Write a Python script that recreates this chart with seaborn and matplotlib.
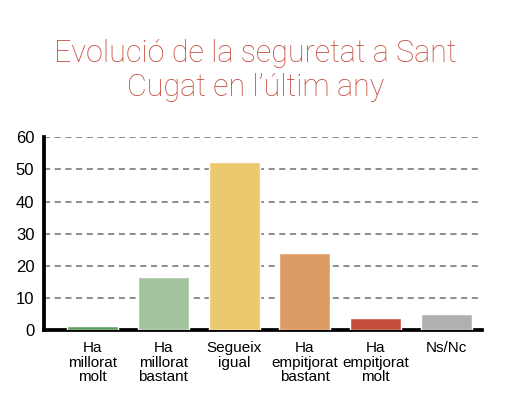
import matplotlib
matplotlib.use("Agg")
import matplotlib.pyplot as plt
import seaborn as sns
import pandas as pd
import numpy as np

# Dades llegides del gràfic
categories = ["Ha\nmillorat\nmolt", "Ha\nmillorat\nbastant", "Segueix\nigual",
              "Ha\nempitjorat\nbastant", "Ha\nempitjorat\nmolt", "Ns/Nc"]
valors = [1.3, 16.4, 52.2, 23.9, 3.7, 5.0]
colors = ["#5e9e5f", "#a3c59d", "#ecc96f", "#dc9c64", "#c4503b", "#b0b0b0"]
yticks = [0, 10, 20, 30, 40, 50, 60]
titol = "Evolució de la seguretat a Sant\nCugat en l’últim any"

df = pd.DataFrame({"categoria": categories, "valor": valors})

sns.set_theme(style="white")
plt.rcParams["font.family"] = ["Liberation Sans", "DejaVu Sans"]

fig = plt.figure(figsize=(5.31, 4.07), dpi=100)
ax = fig.add_axes([0.083, 0.189, 0.825, 0.4735])

sns.barplot(data=df, x="categoria", y="valor", hue="categoria", palette=colors,
            legend=False, width=0.72, saturation=1, ax=ax, zorder=3)

ax.set_ylim(0, 60)
ax.set_xlim(-0.68, 5.5)
ax.set_yticks(yticks)
ax.set_xlabel("")
ax.set_ylabel("")

ax.yaxis.grid(True, linestyle=(0, (4, 3)), color="#6e6e6e", linewidth=1.1, zorder=0)
ax.xaxis.grid(False)
ax.set_axisbelow(True)

for s in ["top", "right"]:
    ax.spines[s].set_visible(False)
for s in ["left", "bottom"]:
    ax.spines[s].set_color("black")
    ax.spines[s].set_linewidth(2.7)
    ax.spines[s].set_zorder(2.5)

ax.tick_params(axis="y", length=0, pad=7, labelsize=12, labelcolor="black")
ax.tick_params(axis="x", which="major", length=0, pad=8, labelsize=11, labelcolor="black")
for lab in ax.get_xticklabels():
    lab.set_linespacing(1.05)
ax.set_xticks(np.arange(0.5, 6, 1), minor=True)
ax.tick_params(axis="x", which="minor", direction="inout", length=5, width=2.2, color="black")

fig.text(0.481, 0.905, titol, ha="center", va="top", fontsize=22, fontweight="light",
         family=["Roboto", "DejaVu Sans"], color="#c4493a", linespacing=1.25)

fig.savefig("out.png", dpi=100, facecolor="white")
